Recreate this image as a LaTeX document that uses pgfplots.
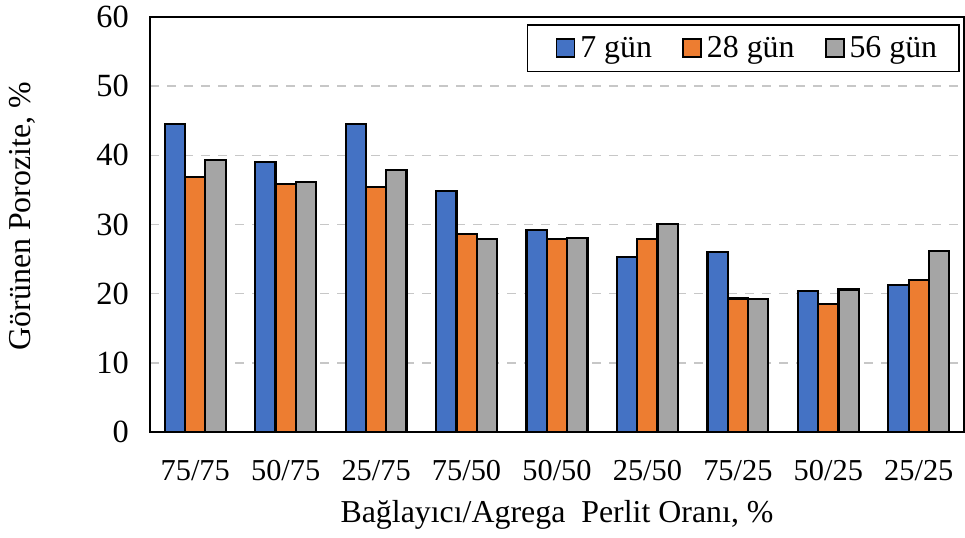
\documentclass[border=0pt]{standalone}
\usepackage{fontspec}
\setmainfont{Liberation Serif}
\usepackage{pgfplots}
\pgfplotsset{compat=1.18}
\definecolor{cblue}{HTML}{4472C4}
\definecolor{corange}{HTML}{ED7D31}
\definecolor{cgray}{HTML}{A5A5A5}
\begin{document}
\begin{tikzpicture}[font=\fontsize{32}{38}\selectfont]
\useasboundingbox (0,0) rectangle (965bp,538bp);
\begin{axis}[
  at={(150bp,106bp)}, anchor=south west,
  scale only axis, width=814bp, height=415bp,
  ybar=0pt, bar width=20.3bp,
  xmin=-0.5, xmax=8.5, ymin=0, ymax=60,
  xtick={0,...,8},
  xticklabels={75/75,50/75,25/75,75/50,50/50,25/50,75/25,50/25,25/25},
  ytick={0,10,...,60},
  major tick length=0pt,
  /pgf/number format/assume math mode=true,
  ymajorgrids,
  grid style={dash pattern=on 9bp off 8bp, color=black!22, line width=1.4bp},
  axis line style={line width=1.8bp, black},
  yticklabel style={inner sep=0pt, anchor=east, xshift=-21bp, font=\fontsize{32.5}{38}\selectfont},
  xticklabel style={inner sep=0pt, anchor=north, yshift=-28bp, font=\fontsize{30.5}{36}\selectfont},
  every axis x label/.style={at={(axis description cs:0.5,0)}, anchor=center, yshift=-83bp},
  every axis y label/.style={at={(axis description cs:-0.157,0.52)}, rotate=90, anchor=center},
  xlabel={Bağlayıcı/Agrega\ \ Perlit Oranı, \%},
  ylabel={Görünen Porozite, \%},
  legend columns=3,
  legend image code/.code={\path (0bp,0bp); \draw[#1, line width=1.6bp] (8bp,-9bp) rectangle (26bp,9bp);},
  legend style={at={(1,1)}, anchor=north east, xshift=-4bp, yshift=-7bp,
    draw=black, line width=1.6bp, inner xsep=20bp, inner ysep=10bp,
    nodes={inner sep=2bp, font=\fontsize{32}{38}\selectfont},
    /tikz/every even column/.append style={column sep=20bp},
    /tikz/every odd column/.append style={column sep=3bp}},
  every axis plot/.append style={draw=black, line width=2.2bp},
]
\addplot[fill=cblue] coordinates {(0,44.5) (1,39.0) (2,44.5) (3,34.9) (4,29.2) (5,25.3) (6,26.0) (7,20.4) (8,21.3)};
\addplot[fill=corange] coordinates {(0,36.9) (1,35.8) (2,35.4) (3,28.6) (4,27.9) (5,27.9) (6,19.3) (7,18.5) (8,22.0)};
\addplot[fill=cgray] coordinates {(0,39.3) (1,36.2) (2,37.9) (3,27.9) (4,28.0) (5,30.1) (6,19.2) (7,20.6) (8,26.2)};
\legend{7 gün, 28 gün, 56 gün}
\end{axis}
\end{tikzpicture}
\end{document}
